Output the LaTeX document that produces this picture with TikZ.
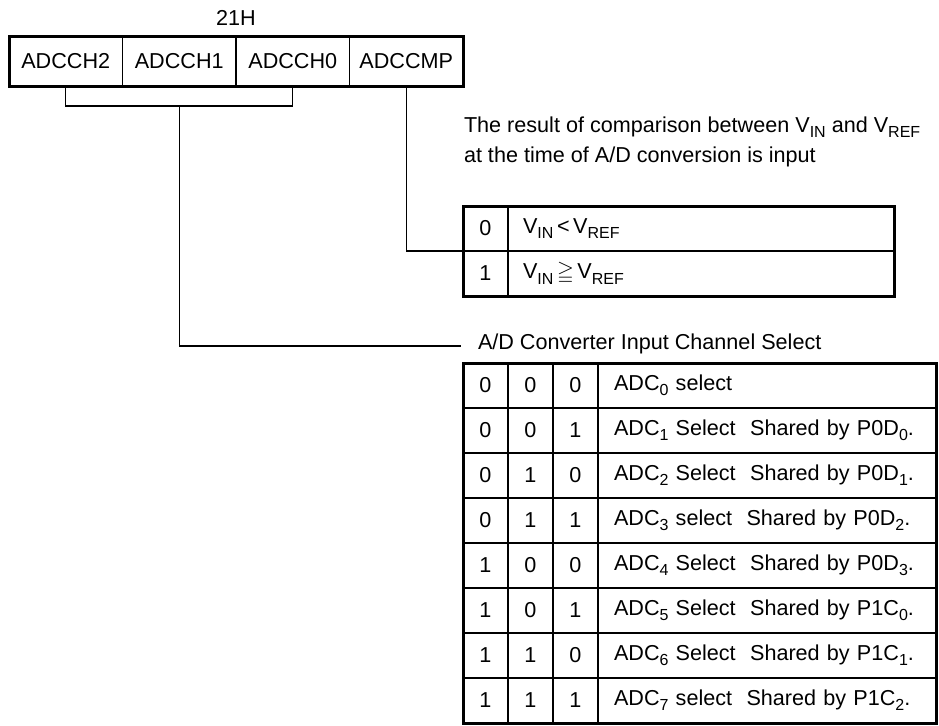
\documentclass[tikz,border=0pt]{standalone}
\usepackage{amssymb}
\usepackage{fontspec}
\setmainfont{Liberation Sans}
\usetikzlibrary{positioning}
\newcommand{\lowsub}[1]{\raisebox{-0.45ex}{\fontsize{8}{9}\selectfont #1}}

\begin{document}
\begin{tikzpicture}[x=0.5pt,y=-0.5pt,
		every node/.style={font=\fontsize{10.8}{15}\selectfont, outer sep=0pt},
		regcell/.style={draw, line width=0.7pt, minimum width=56.75pt, minimum height=25pt, inner sep=0pt},
		bitcell/.style={draw, line width=0.7pt, minimum width=22.5pt, minimum height=22.5pt, inner sep=0pt},
		cmptxt/.style={draw, line width=0.7pt, minimum height=22.5pt, inner ysep=0pt, inner xsep=7.5pt, text width=178pt, align=left},
		chtxt/.style={draw, line width=0.7pt, minimum height=22.5pt, inner ysep=0pt, inner xsep=8pt, text width=153pt, align=left},
		frame/.style={line width=1.5pt},
		conn/.style={line width=0.6pt}]
	\useasboundingbox (0,0) rectangle (939,725);
	% register 21H
	\node (addr) at (236,18) {21H};
	\node[regcell] (ch2) at (65.75,61) {ADCCH2};
	\node[regcell, right=0pt of ch2] (ch1) {ADCCH1};
	\node[regcell, right=0pt of ch1] (ch0) {ADCCH0};
	\node[regcell, right=0pt of ch0] (cmp) {ADCCMP};
	\draw[frame] (ch2.north west) rectangle (cmp.south east);
	% bracket under ADCCH2..ADCCH0
	\coordinate (bar) at (0,106);
	\coordinate (barmid) at (bar -| ch1.south);
	\draw[conn] (ch2.south) |- (bar -| ch0.south) -- (ch0.south);
	% comparison result
	\node[anchor=base west, inner sep=0pt, align=left] (cmpnote) at (464,162)
		{The result of comparison between V\lowsub{IN} and V\lowsub{REF}\\at the time of A/D conversion is input};
	\foreach \bv/\lbl [count=\r from 0] in {0/{V\lowsub{IN}\,<\,V\lowsub{REF}}, 1/{V\lowsub{IN}\,$\geqq$\,V\lowsub{REF}}}{
		\node[bitcell] (cmpbit\r) at (485.5,228.5+45*\r) {\bv};
		\node[cmptxt, right=0pt of cmpbit\r] (cmptxt\r) {\lbl};
	}
	\draw[frame] (cmpbit0.north west) rectangle (cmptxt1.south east);
	\draw[conn] (cmp.south) |- (cmpbit0.south west);
	% channel select
	\coordinate (chin) at (461,346);
	\draw[conn] (barmid) |- (chin);
	\node[anchor=base west, inner sep=0pt] (chtitle) at (478,349) {A/D Converter Input Channel Select};
	\foreach \xa/\xb/\xc/\lbl [count=\r from 0] in {
		0/0/0/{ADC\lowsub{0} select},
		0/0/1/{ADC\lowsub{1} Select~ Shared by P0D\lowsub{0}.},
		0/1/0/{ADC\lowsub{2} Select~ Shared by P0D\lowsub{1}.},
		0/1/1/{ADC\lowsub{3} select~ Shared by P0D\lowsub{2}.},
		1/0/0/{ADC\lowsub{4} Select~ Shared by P0D\lowsub{3}.},
		1/0/1/{ADC\lowsub{5} Select~ Shared by P1C\lowsub{0}.},
		1/1/0/{ADC\lowsub{6} Select~ Shared by P1C\lowsub{1}.},
		1/1/1/{ADC\lowsub{7} select~ Shared by P1C\lowsub{2}.}}{
		\node[bitcell] (chb\r a) at (485.5,385.5+45*\r) {\xa};
		\node[bitcell, right=0pt of chb\r a] (chb\r b) {\xb};
		\node[bitcell, right=0pt of chb\r b] (chb\r c) {\xc};
		\node[chtxt, right=0pt of chb\r c] (cht\r) {\lbl};
	}
	\draw[frame] (chb0a.north west) rectangle (cht7.south east);
\end{tikzpicture}
\end{document}
